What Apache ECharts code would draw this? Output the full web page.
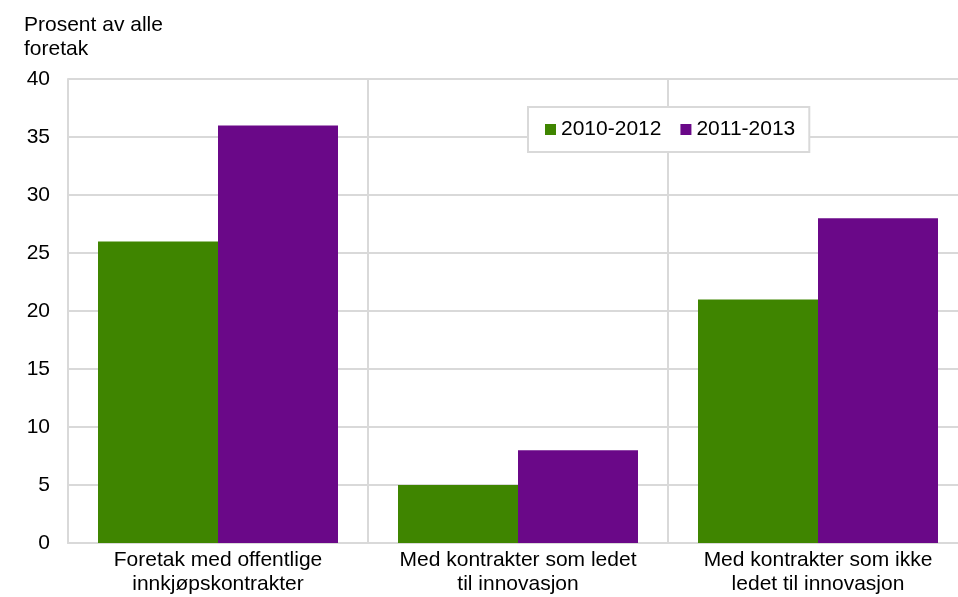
<!DOCTYPE html>
<html>
<head>
<meta charset="utf-8">
<script src="https://cdn.jsdelivr.net/npm/echarts@6/dist/echarts.min.js"></script>
<style>
  html, body { margin: 0; padding: 0; background: #fff; }
  #main { width: 958px; height: 597px; }
</style>
</head>
<body>
<div id="main"></div>
<script>
var categories = ['Foretak med offentlige\ninnkjøpskontrakter', 'Med kontrakter som ledet\ntil innovasjon', 'Med kontrakter som ikke\nledet til innovasjon']
var series2010 = [26, 5, 21]
var series2011 = [36, 8, 28]

var font = 'Liberation Sans, Arial, sans-serif'
var myChart = echarts.init(document.getElementById('main'))
var option = {
  animation: false,
  textStyle: { fontFamily: font },
  title: {
    text: 'Prosent av alle\nforetak',
    left: 19,
    top: 8,
    textStyle: { fontFamily: font, fontSize: 21, fontWeight: 'normal', color: '#000', lineHeight: 24 }
  },
  legend: {
    left: 528,
    top: 107,
    padding: [12, 14, 12, 17],
    itemWidth: 11,
    itemHeight: 11,
    itemGap: 19,
    borderColor: '#d9d9d9',
    borderWidth: 2,
    backgroundColor: '#fff',
    icon: 'rect',
    textStyle: { fontFamily: font, fontSize: 21, color: '#000' },
    data: ['2010-2012', '2011-2013']
  },
  grid: { left: 68, top: 79, width: 900, height: 464, containLabel: false, outerBoundsMode: 'none' },
  xAxis: {
    type: 'category',
    data: categories,
    axisLine: { lineStyle: { color: '#d9d9d9', width: 2 } },
    axisTick: { show: false },
    splitLine: { show: true, interval: 0, lineStyle: { color: '#d9d9d9', width: 2 } },
    axisLabel: { interval: 0, hideOverlap: false, fontFamily: font, fontSize: 21, color: '#000', lineHeight: 24, margin: 5 }
  },
  yAxis: {
    type: 'value',
    min: 0,
    max: 40,
    interval: 5,
    axisLine: { show: true, lineStyle: { color: '#d9d9d9', width: 2 } },
    axisTick: { show: false },
    splitLine: { lineStyle: { color: '#d9d9d9', width: 2 } },
    axisLabel: { fontFamily: font, fontSize: 21, color: '#000', margin: 18 }
  },
  series: [
    {
      name: '2010-2012',
      type: 'bar',
      data: series2010,
      barWidth: 120,
      barGap: '0%',
      itemStyle: { color: '#3f8500' }
    },
    {
      name: '2011-2013',
      type: 'bar',
      data: series2011,
      barWidth: 120,
      itemStyle: { color: '#6a0888' }
    }
  ]
}
myChart.setOption(option)
</script>
</body>
</html>
